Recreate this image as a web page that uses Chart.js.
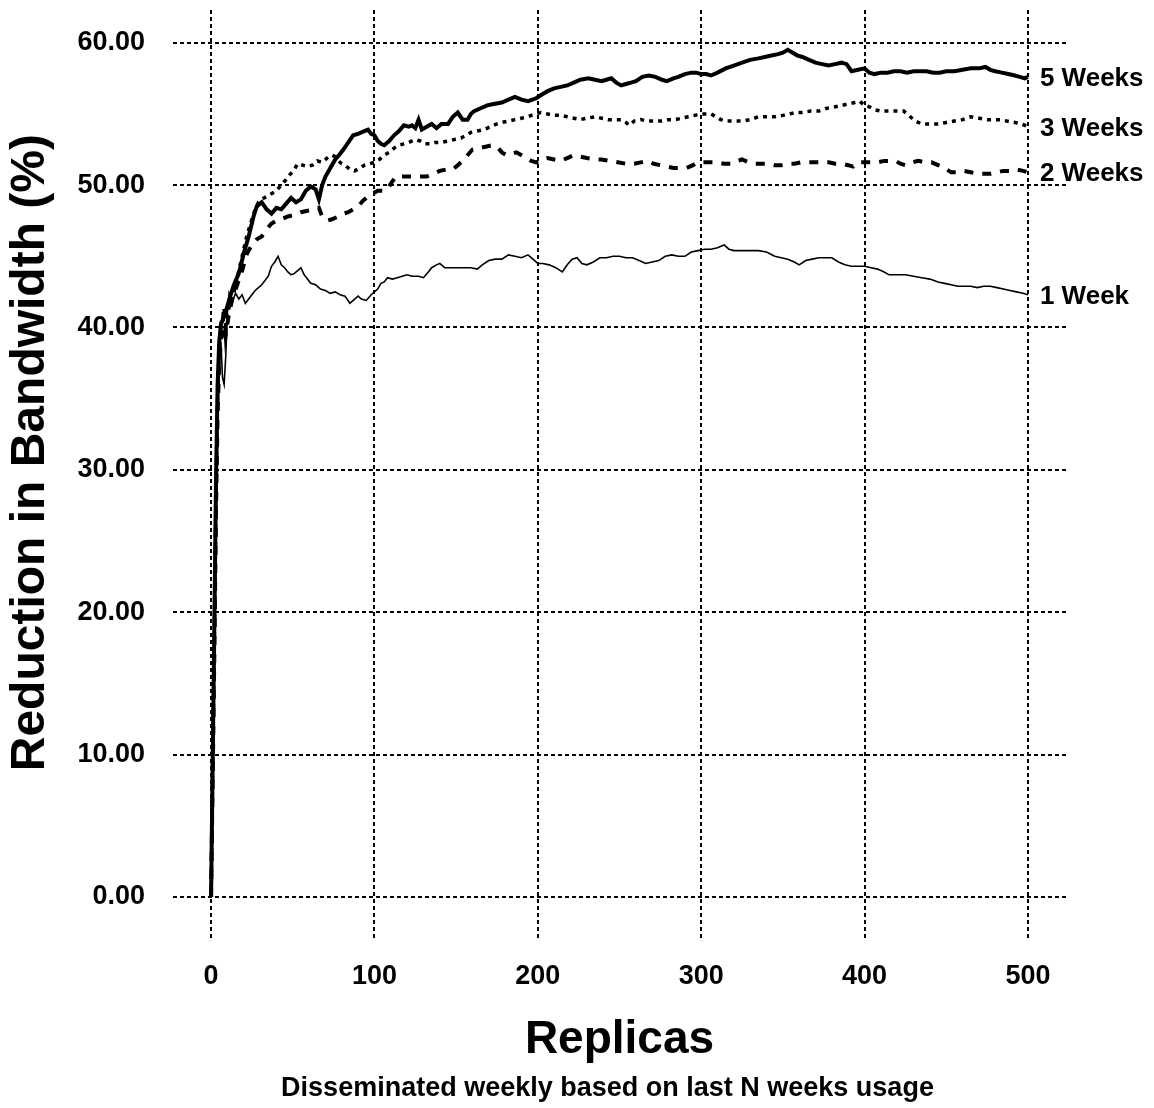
<!DOCTYPE html>
<html>
<head>
<meta charset="utf-8">
<title>Reduction in Bandwidth</title>
<script src="https://cdn.jsdelivr.net/npm/chart.js@4/dist/chart.umd.min.js"></script>
<style>
  html, body { margin: 0; padding: 0; background: #fff; }
  #wrap { width: 1154px; height: 1108px; }
</style>
</head>
<body>
<div id="wrap"><canvas id="bwChart"></canvas></div>
<script>
// series names, shown at the end of each curve
const seriesNames = ["5 Weeks", "3 Weeks", "2 Weeks", "1 Week"];
const xTicks = [0, 100, 200, 300, 400, 500];
const yTicks = [0, 10, 20, 30, 40, 50, 60];

// [replicas, reduction %]
const week5 = [[0,0],[2,19],[3,29],[4,36],[5,39],[6,40.2],[8,40.8],[10,41.5],[12,42.3],[14,43],[17,43.8],[20,45.2],[23,46.4],[26,47.8],[28,48.5],[31,48.8],[34,48.3],[37,48.0],[40,48.4],[43,48.3],[46,48.7],[49,49.1],[52,48.8],[55,49.0],[58,49.6],[61,49.9],[64,49.7],[66,49.0],[68,50.0],[70,50.6],[73,51.2],[76,51.8],[79,52.2],[81,52.5],[84,53.0],[87,53.5],[90,53.6],[92,53.7],[96,53.9],[98,53.6],[100,53.5],[102,53.1],[104,52.9],[106,52.8],[109,53.1],[112,53.5],[115,53.8],[118,54.2],[121,54.1],[123,54.2],[125,54.0],[127,54.6],[129,53.9],[132,54.1],[135,54.3],[138,54.0],[141,54.3],[145,54.3],[148,54.8],[151,55.1],[154,54.6],[157,54.6],[159,55.0],[161,55.2],[165,55.4],[169,55.6],[173,55.7],[178,55.8],[182,56.0],[186,56.2],[190,56.0],[194,55.9],[199,56.1],[203,56.4],[206,56.6],[210,56.8],[214,56.9],[218,57.0],[222,57.2],[226,57.4],[231,57.5],[235,57.4],[239,57.3],[242,57.4],[245,57.5],[248,57.2],[251,57.0],[254,57.1],[257,57.2],[260,57.3],[264,57.6],[268,57.7],[272,57.6],[276,57.4],[279,57.3],[283,57.5],[286,57.6],[290,57.8],[294,57.9],[297,57.9],[300,57.8],[303,57.8],[306,57.7],[310,57.9],[315,58.2],[320,58.4],[325,58.6],[330,58.8],[335,58.9],[339,59.0],[343,59.1],[347,59.2],[350,59.3],[353,59.5],[356,59.3],[359,59.1],[362,59.0],[366,58.8],[370,58.6],[374,58.5],[378,58.4],[382,58.5],[386,58.6],[389,58.5],[392,58.0],[396,58.1],[400,58.2],[403,57.9],[406,57.8],[410,57.9],[414,57.9],[418,58.0],[422,58.0],[426,57.9],[430,58.0],[434,58.0],[438,58.0],[442,57.9],[446,57.9],[450,58.0],[455,58.0],[460,58.1],[465,58.2],[470,58.2],[474,58.3],[477,58.1],[480,58.0],[484,57.9],[488,57.8],[492,57.7],[495,57.6],[498,57.5],[500,57.6]];

const week3 = [[0,0],[2,18],[3,28],[4,35],[5,38.5],[6,40],[8,39.5],[10,41],[12,41.8],[14,42.5],[16,43.5],[19,45],[22,46.5],[25,47.6],[27,48.3],[29,48.8],[31,49.0],[34,49.2],[37,49.4],[40,49.6],[43,50.0],[46,50.4],[48,50.7],[51,51.1],[53,51.5],[56,51.4],[59,51.3],[62,51.4],[65,51.7],[68,51.6],[70,51.8],[72,52.0],[74,52.1],[76,52.0],[78,51.7],[80,51.5],[82,51.4],[85,51.1],[88,51.0],[91,51.2],[94,51.4],[97,51.5],[100,51.6],[103,51.8],[106,52.1],[109,52.3],[112,52.6],[115,52.8],[118,52.9],[121,53.0],[125,53.2],[128,53.1],[131,52.9],[134,52.9],[137,53.0],[141,53.0],[145,53.1],[149,53.2],[153,53.3],[156,53.5],[159,53.7],[163,53.8],[167,53.9],[171,54.1],[175,54.3],[178,54.4],[182,54.5],[186,54.6],[190,54.7],[194,54.8],[198,55.0],[202,55.1],[206,55.0],[210,54.9],[214,54.9],[218,54.8],[222,54.7],[226,54.6],[230,54.7],[235,54.8],[239,54.7],[243,54.6],[247,54.6],[251,54.6],[254,54.4],[256,54.2],[259,54.5],[263,54.6],[267,54.5],[272,54.5],[276,54.5],[280,54.6],[284,54.6],[288,54.7],[292,54.8],[296,54.9],[300,55.0],[303,55.0],[306,55.0],[309,54.8],[312,54.6],[315,54.5],[320,54.5],[325,54.5],[330,54.6],[335,54.8],[340,54.8],[345,54.8],[350,54.9],[354,55.0],[358,55.1],[362,55.1],[367,55.2],[372,55.2],[377,55.4],[382,55.5],[386,55.6],[390,55.7],[394,55.8],[397,55.9],[400,55.6],[403,55.5],[406,55.3],[410,55.2],[414,55.2],[419,55.2],[424,55.2],[428,54.8],[431,54.5],[435,54.3],[440,54.3],[445,54.3],[450,54.4],[455,54.5],[460,54.6],[465,54.8],[470,54.7],[475,54.6],[479,54.6],[483,54.6],[487,54.5],[492,54.4],[496,54.3],[500,54.1]];

const week2 = [[0,0],[2,17],[3,27],[4,34],[5,37.5],[6,39],[8,41.5],[9,39.5],[11,41],[13,42],[16,43],[19,44],[22,45.2],[25,45.8],[28,46.2],[31,46.4],[34,46.9],[37,47.3],[40,47.5],[43,47.6],[47,47.8],[51,47.9],[55,48.1],[59,48.2],[63,48.3],[66,48.4],[68,47.8],[71,47.5],[74,47.6],[78,47.8],[81,48.0],[84,48.1],[87,48.3],[90,48.5],[93,48.9],[96,49.2],[99,49.4],[102,49.6],[105,49.6],[108,49.7],[110,50.1],[113,50.6],[116,50.6],[120,50.6],[124,50.6],[128,50.6],[132,50.6],[136,50.8],[140,51.0],[144,51.1],[148,51.1],[151,51.4],[154,51.7],[157,52.1],[160,52.5],[164,52.6],[168,52.7],[172,52.8],[175,52.7],[178,52.3],[181,52.1],[184,52.2],[187,52.3],[190,52.1],[193,51.9],[196,51.7],[199,51.6],[203,51.8],[206,51.9],[210,51.8],[214,51.7],[218,51.9],[222,52.1],[226,52.0],[230,51.9],[235,51.8],[239,51.8],[244,51.7],[249,51.6],[254,51.5],[259,51.5],[263,51.6],[267,51.7],[271,51.5],[275,51.4],[279,51.3],[283,51.2],[287,51.2],[291,51.2],[295,51.4],[298,51.6],[302,51.6],[306,51.6],[310,51.6],[314,51.5],[318,51.5],[322,51.7],[325,51.8],[329,51.6],[333,51.5],[337,51.5],[341,51.5],[345,51.4],[349,51.4],[353,51.5],[357,51.5],[361,51.6],[366,51.6],[370,51.6],[374,51.6],[378,51.6],[382,51.5],[386,51.5],[390,51.4],[393,51.3],[396,51.6],[400,51.6],[404,51.6],[408,51.6],[412,51.7],[416,51.7],[419,51.7],[422,51.5],[425,51.4],[429,51.6],[433,51.7],[437,51.6],[441,51.6],[445,51.4],[449,51.2],[453,50.9],[457,50.9],[461,51.0],[465,50.9],[469,50.8],[473,50.8],[477,50.8],[481,50.9],[485,51.0],[489,51.0],[493,51.1],[497,51.0],[500,50.9]];

const week1 = [[0,0],[2,16],[3,26],[4,33],[5,37],[6,39],[7,36.5],[8,36],[9,38],[10,41],[11,42.4],[13,41.8],[15,42.4],[17,42.0],[19,42.3],[21,41.7],[23,42.0],[25,42.3],[27,42.6],[29,42.8],[31,43.0],[33,43.3],[35,43.6],[37,44.3],[39,44.6],[41,45.0],[43,44.4],[45,44.2],[47,43.9],[49,43.7],[51,43.8],[53,44.0],[55,44.2],[57,43.7],[59,43.4],[61,43.1],[64,43.0],[67,42.7],[70,42.6],[73,42.4],[76,42.5],[79,42.3],[82,42.2],[85,41.7],[87,41.9],[90,42.2],[92,42.0],[95,41.9],[98,42.3],[100,42.5],[102,42.7],[104,43.1],[106,43.2],[108,43.5],[111,43.4],[114,43.5],[117,43.6],[120,43.7],[123,43.6],[127,43.6],[130,43.5],[133,43.9],[135,44.2],[138,44.4],[140,44.5],[143,44.2],[146,44.2],[150,44.2],[155,44.2],[159,44.2],[163,44.1],[166,44.4],[170,44.7],[174,44.8],[178,44.8],[182,45.1],[186,45.0],[190,44.9],[194,45.1],[197,44.8],[200,44.5],[203,44.5],[207,44.4],[211,44.2],[215,43.9],[218,44.4],[221,44.8],[224,44.9],[227,44.5],[230,44.4],[234,44.6],[238,44.9],[242,44.9],[246,45.0],[250,45.0],[254,44.9],[258,44.9],[262,44.7],[266,44.5],[270,44.6],[274,44.7],[278,45.0],[282,45.1],[286,45.0],[290,45.0],[294,45.3],[298,45.4],[302,45.5],[306,45.5],[310,45.6],[314,45.8],[317,45.5],[320,45.4],[325,45.4],[330,45.4],[335,45.4],[340,45.3],[345,45.0],[349,44.9],[353,44.8],[357,44.6],[360,44.4],[364,44.7],[368,44.8],[372,44.9],[376,44.9],[380,44.9],[384,44.6],[388,44.4],[392,44.3],[396,44.3],[400,44.3],[404,44.2],[408,44.1],[412,43.9],[415,43.7],[420,43.7],[425,43.7],[430,43.6],[435,43.5],[440,43.4],[445,43.2],[449,43.1],[453,43.0],[457,42.9],[461,42.9],[465,42.9],[469,42.8],[473,42.9],[477,42.9],[481,42.8],[485,42.7],[489,42.6],[493,42.5],[497,42.4],[500,42.3]];

const FONT = "'Liberation Sans', Arial, Helvetica, sans-serif";
const yTitle = "Reduction in Bandwidth (%)";
const subTitle = "Disseminated weekly based on last N weeks usage";
const toPoints = arr => arr.map(p => ({ x: p[0], y: p[1] }));

// series names next to the last point of each curve
const endLabels = {
  id: "endLabels",
  afterDatasetsDraw(chart) {
    const ctx = chart.ctx;
    ctx.save();
    ctx.font = "bold 26px " + FONT;
    ctx.fillStyle = "#000";
    ctx.textAlign = "left";
    ctx.textBaseline = "middle";
    chart.data.datasets.forEach((ds, i) => {
      const pts = chart.getDatasetMeta(i).data;
      const last = pts[pts.length - 1];
      ctx.fillText(ds.label, last.x + 12, last.y + 2);
    });
    ctx.restore();
  }
};

// rotated y title (sits a bit above the plot's middle) and the caption under the x title
const extraText = {
  id: "extraText",
  afterDraw(chart) {
    const { ctx, chartArea } = chart;
    ctx.save();
    ctx.fillStyle = "#000";
    ctx.textAlign = "center";
    ctx.textBaseline = "middle";

    ctx.font = "bold 48px " + FONT;
    ctx.translate(31, chartArea.top + (chartArea.bottom - chartArea.top) * 0.477);
    ctx.rotate(-Math.PI / 2);
    ctx.fillText(yTitle, 0, 0);
    ctx.setTransform(1, 0, 0, 1, 0, 0);

    ctx.font = "bold 27px " + FONT;
    ctx.fillText(subTitle, (chartArea.left + chartArea.right) / 2 - 12, chart.height - 19);
    ctx.restore();
  }
};

const ctx = document.getElementById("bwChart").getContext("2d");
new Chart(ctx, {
  type: "line",
  data: {
    datasets: [
      { label: seriesNames[0], data: toPoints(week5), borderColor: "#000", borderWidth: 4 },
      { label: seriesNames[1], data: toPoints(week3), borderColor: "#000", borderWidth: 3.5, borderDash: [4, 5] },
      { label: seriesNames[2], data: toPoints(week2), borderColor: "#000", borderWidth: 4, borderDash: [9, 9] },
      { label: seriesNames[3], data: toPoints(week1), borderColor: "#000", borderWidth: 1.6 }
    ]
  },
  options: {
    responsive: true,
    maintainAspectRatio: false,
    animation: false,
    elements: { point: { radius: 0 }, line: { tension: 0, fill: false } },
    layout: { padding: { top: 10, right: 88, left: 0, bottom: 35 } },
    plugins: {
      legend: { display: false },
      tooltip: { enabled: false },
      title: { display: false }
    },
    scales: {
      x: {
        type: "linear",
        min: -23.3,
        max: 523.3,
        afterBuildTicks: s => { s.ticks = xTicks.map(v => ({ value: v })); },
        afterFit: s => { s.height = 135; s.paddingLeft = 0; s.paddingRight = 0; },
        grid: { color: "#000", lineWidth: 2, drawTicks: false },
        border: { display: false, dash: [4, 3] },
        ticks: {
          color: "#000",
          padding: 22,
          font: { family: FONT, size: 27, weight: "bold" },
          callback: v => String(v)
        },
        title: {
          display: true,
          text: "Replicas",
          color: "#000",
          font: { family: FONT, size: 46, weight: "bold" },
          padding: { top: 0, bottom: 5 }
        }
      },
      y: {
        type: "linear",
        min: -2.88,
        max: 62.3,
        afterBuildTicks: s => { s.ticks = yTicks.map(v => ({ value: v })); },
        afterFit: s => { s.width = 173; s.paddingTop = 0; s.paddingBottom = 0; },
        grid: { color: "#000", lineWidth: 2, drawTicks: false },
        border: { display: false, dash: [4, 3] },
        ticks: {
          color: "#000",
          padding: 28,
          font: { family: FONT, size: 27, weight: "bold" },
          callback: v => v.toFixed(2)
        },
        title: { display: false }
      }
    }
  },
  plugins: [endLabels, extraText]
});
</script>
</body>
</html>
